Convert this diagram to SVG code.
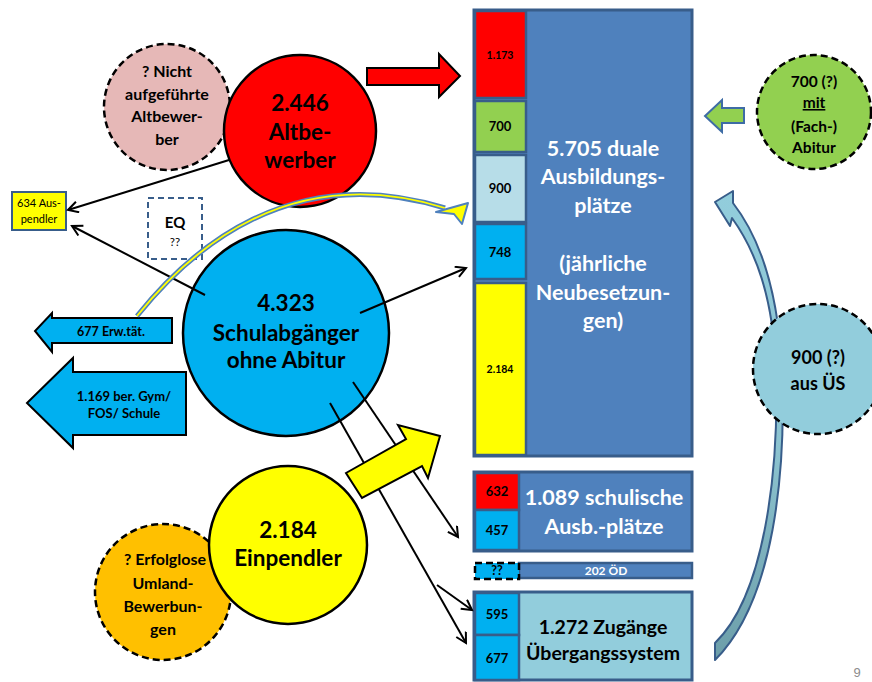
<svg xmlns="http://www.w3.org/2000/svg" width="872" height="682" viewBox="0 0 872 682">
<defs>
<style>
.t{font-family:Lato,"Open Sans","Liberation Sans",sans-serif;font-weight:bold;text-anchor:middle;fill:#000}
.w{fill:#fff}
.cell{stroke:#385D8A;stroke-width:2.5}
.ln{stroke:#000;stroke-width:2;fill:none}
.dash{stroke:#000;stroke-width:2.5;stroke-dasharray:7 4}
</style>
<marker id="ah" markerUnits="userSpaceOnUse" markerWidth="14" markerHeight="14" refX="11" refY="6" orient="auto">
<path d="M1,0.5 L11,6 L1,11.5" fill="none" stroke="#000" stroke-width="2"/>
</marker>
<linearGradient id="cg" x1="0" y1="0" x2="0" y2="1">
<stop offset="0" stop-color="#92CDDC"/>
<stop offset="0.55" stop-color="#8CC3D0"/>
<stop offset="1" stop-color="#6C9EA9"/>
</linearGradient>
</defs>
<rect width="872" height="682" fill="#fff"/>

<!-- Right column -->
<g id="duale">
<rect x="474" y="10" width="218" height="446" fill="#4F81BD" stroke="#385D8A" stroke-width="3"/>
<rect class="cell" x="475" y="11" width="51" height="87" fill="#FF0000"/>
<rect class="cell" x="475" y="101" width="51" height="51" fill="#92D050"/>
<rect class="cell" x="475" y="155" width="51" height="67" fill="#B7DDE8"/>
<rect class="cell" x="475" y="224" width="51" height="55" fill="#00B0F0"/>
<rect class="cell" x="475" y="283" width="51" height="172" fill="#FFFF00"/>
<text class="t" x="500" y="59" font-size="10.5">1.173</text>
<text class="t" x="500" y="131" font-size="13">700</text>
<text class="t" x="500" y="193" font-size="13">900</text>
<text class="t" x="500" y="257" font-size="13">748</text>
<text class="t" x="500" y="373" font-size="10.5">2.184</text>
<text class="t w" x="603" y="156" font-size="21.5">5.705 duale</text>
<text class="t w" x="603" y="184" font-size="21.5">Ausbildungs-</text>
<text class="t w" x="603" y="213" font-size="21.5">plätze</text>
<text class="t w" x="603" y="271" font-size="21.5">(jährliche</text>
<text class="t w" x="603" y="300" font-size="21.5">Neubesetzun-</text>
<text class="t w" x="603" y="328" font-size="21.5">gen)</text>
</g>

<g id="schulisch">
<rect x="474" y="472" width="218" height="79" fill="#4F81BD" stroke="#385D8A" stroke-width="3"/>
<rect class="cell" x="475" y="473" width="44" height="37" fill="#FF0000"/>
<rect class="cell" x="475" y="510" width="44" height="40" fill="#00B0F0"/>
<text class="t" x="497" y="496" font-size="13">632</text>
<text class="t" x="497" y="535" font-size="13">457</text>
<text class="t w" x="604" y="505" font-size="21.5">1.089 schulische</text>
<text class="t w" x="604" y="534" font-size="21.5">Ausb.-plätze</text>
</g>

<g id="oed">
<rect x="519" y="563" width="173" height="15" fill="#4F81BD" stroke="#385D8A" stroke-width="2.5"/>
<rect class="dash" x="475" y="563" width="44" height="16" fill="#00B0F0"/>
<text class="t" x="497" y="575" font-size="12.5">??</text>
<text class="t w" x="606" y="575" font-size="12">202 ÖD</text>
</g>

<g id="uebergang">
<rect x="474" y="592" width="218" height="88" fill="#92CDDC" stroke="#385D8A" stroke-width="3"/>
<rect class="cell" x="475" y="593" width="44" height="42" fill="#00B0F0"/>
<rect class="cell" x="475" y="635" width="44" height="45" fill="#00B0F0"/>
<text class="t" x="497" y="619" font-size="13">595</text>
<text class="t" x="497" y="663" font-size="13">677</text>
<text class="t" x="603" y="634" font-size="19.5">1.272 Zugänge</text>
<text class="t" x="603" y="660" font-size="19.5">Übergangssystem</text>
</g>

<!-- Left nodes -->
<g id="nicht-aufgefuehrt">
<circle class="dash" cx="167" cy="107" r="63" fill="#E6B8B7"/>
<text class="t" x="167" y="77" font-size="16">? Nicht</text>
<text class="t" x="167" y="100" font-size="16">aufgeführte</text>
<text class="t" x="167" y="122" font-size="16">Altbewer-</text>
<text class="t" x="167" y="145" font-size="16">ber</text>
</g>
<g id="altbewerber">
<circle cx="300" cy="131" r="76" fill="#FF0000" stroke="#000" stroke-width="2.5"/>
<text class="t" x="300" y="111" font-size="22.5">2.446</text>
<text class="t" x="300" y="140" font-size="22.5">Altbe-</text>
<text class="t" x="300" y="168" font-size="22.5">werber</text>
</g>
<g id="red-arrow">
<polygon points="367,68 439,68 439,54 460,76 439,97 439,85 367,85" fill="#FF0000" stroke="#000" stroke-width="2"/>
</g>

<g id="auspendler">
<rect x="12" y="192" width="54" height="38" fill="#FFFF00" stroke="#385D8A" stroke-width="2"/>
<text x="39" y="207" font-family="Lato,'Open Sans',sans-serif" font-size="11" text-anchor="middle">634 Aus-</text>
<text x="39" y="223" font-family="Lato,'Open Sans',sans-serif" font-size="11" text-anchor="middle">pendler</text>
</g>

<g id="eq">
<rect x="148" y="198" width="54" height="61" fill="#fff" stroke="#385D8A" stroke-width="2" stroke-dasharray="6 4"/>
<text class="t" x="175" y="228" font-size="15">EQ</text>
<text x="175" y="246" font-family="Lato,'Open Sans',sans-serif" font-size="11.5" text-anchor="middle">??</text>
</g>

<g id="schulabgaenger">
<circle cx="286" cy="333" r="103" fill="#00B0F0" stroke="#000" stroke-width="2.5"/>
<text class="t" x="286" y="311" font-size="22.5">4.323</text>
<text class="t" x="286" y="341" font-size="22.5">Schulabgänger</text>
<text class="t" x="286" y="368" font-size="22.5">ohne Abitur</text>
</g>

<g id="erwtaet">
<polygon points="172,318 172,343 52,343 52,352 35,331 52,313 52,318" fill="#00B0F0" stroke="#000" stroke-width="2"/>
<text class="t" x="111" y="335.5" font-size="12.5">677 Erw.tät.</text>
</g>
<g id="gym">
<polygon points="186,372 186,435 73,435 73,448 27,403 73,358 73,372" fill="#00B0F0" stroke="#000" stroke-width="2"/>
<text class="t" x="124" y="401" font-size="13">1.169 ber. Gym/</text>
<text class="t" x="124" y="418" font-size="13">FOS/ Schule</text>
</g>

<g id="erfolglose">
<circle class="dash" cx="163" cy="592" r="68" fill="#FFC000"/>
<text class="t" x="165" y="565" font-size="16">? Erfolglose</text>
<text class="t" x="163" y="589" font-size="16">Umland-</text>
<text class="t" x="163" y="612" font-size="16">Bewerbun-</text>
<text class="t" x="163" y="635" font-size="16">gen</text>
</g>
<g id="einpendler">
<circle cx="288" cy="545" r="79" fill="#FFFF00" stroke="#000" stroke-width="2.5"/>
<text class="t" x="288" y="538" font-size="22.5">2.184</text>
<text class="t" x="288" y="566" font-size="22.5">Einpendler</text>
</g>

<!-- Right nodes -->
<g id="abitur">
<circle class="dash" cx="814" cy="112" r="57" fill="#92D050"/>
<text class="t" x="814" y="87" font-size="15.5">700 (?)</text>
<text class="t" x="814" y="108" font-size="15.5" text-decoration="underline">mit</text>
<text class="t" x="814" y="132" font-size="15.5">(Fach-)</text>
<text class="t" x="814" y="153" font-size="15.5">Abitur</text>
</g>
<g id="green-arrow">
<polygon points="744,108 744,123 722,123 722,132 705,116 722,100 722,108" fill="#92D050" stroke="#3E6CA5" stroke-width="2"/>
</g>

<g id="curved-arrow">
<path d="M715,660 L715,643 C765,595 779,470 776,370 C773,295 755,250 732,218 L730,226 L715,202 L733,191 L733,203 C757,234 778,285 782,370 C786,470 775,600 715,660 Z" fill="url(#cg)" stroke="#385D8A" stroke-width="2" stroke-linejoin="round"/>
</g>
<g id="aus-ues">
<circle class="dash" cx="818" cy="369" r="65" fill="#92CDDC"/>
<text class="t" x="818" y="364" font-size="18">900 (?)</text>
<text class="t" x="818" y="390" font-size="18">aus ÜS</text>
</g>

<!-- Connectors -->
<g id="connectors">
<line class="ln" x1="229" y1="160" x2="68" y2="210" marker-end="url(#ah)"/>
<line class="ln" x1="205" y1="295" x2="72" y2="226" marker-end="url(#ah)"/>
<line class="ln" x1="360" y1="313" x2="466" y2="268" marker-end="url(#ah)"/>
<line class="ln" x1="353" y1="382" x2="458" y2="537" marker-end="url(#ah)"/>
<line class="ln" x1="330" y1="403" x2="466" y2="643" marker-end="url(#ah)"/>
<line class="ln" x1="437" y1="585" x2="472" y2="610" marker-end="url(#ah)"/>
<path d="M137,316 C190,250 290,160 445,208" fill="none" stroke="#4F81BD" stroke-width="5"/>
<path d="M137,316 C190,250 290,160 445,208" fill="none" stroke="#FFFF00" stroke-width="1.8"/>
<polygon points="436,212 468,203 462,224 454,214" fill="#FFFF00" stroke="#4F81BD" stroke-width="2" stroke-linejoin="round"/>
</g>

<g id="yellow-arrow">
<polygon points="346,473 406,439 398,425 440,436 428,478 422,466 362,498" fill="#FFFF00" stroke="#000" stroke-width="2"/>
</g>

<text x="857" y="677" font-family="'Liberation Sans',sans-serif" font-size="13" fill="#8C8C8C" text-anchor="middle">9</text>
</svg>
